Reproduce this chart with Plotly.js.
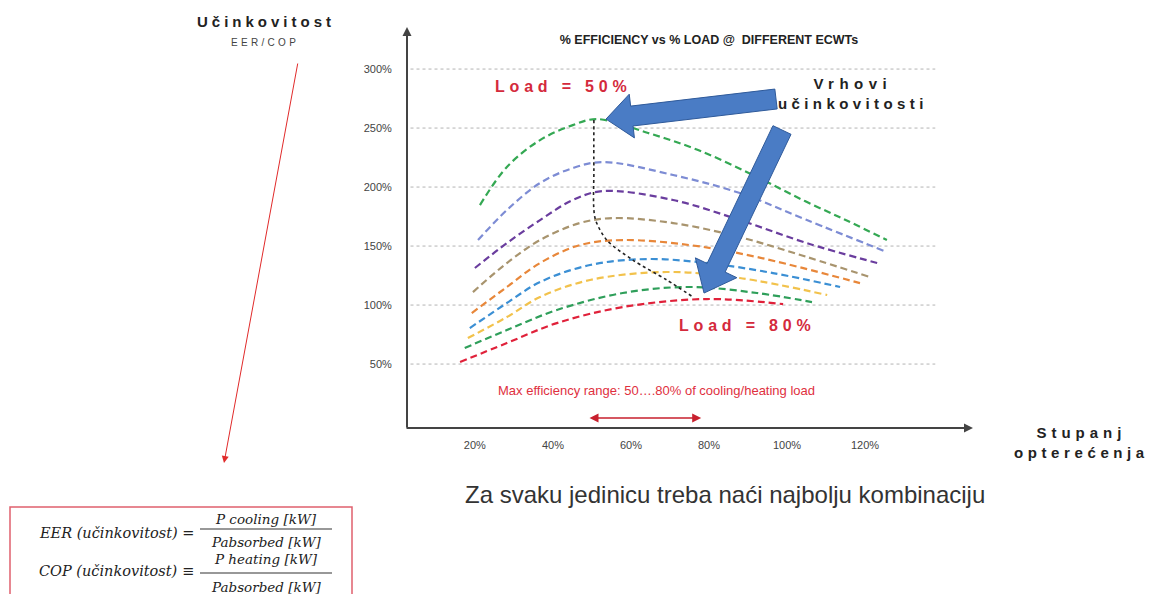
<!DOCTYPE html>
<html><head><meta charset="utf-8">
<script src="https://cdn.plot.ly/plotly-3.0.1.min.js"></script>
<style>html,body{margin:0;padding:0;background:#fff}#chart{width:1156px;height:594px}</style>
</head><body><div id="chart"></div>
<script>
// ---- data ----
const xTickVals = [20, 40, 60, 80, 100, 120];
const xTickText = ['20%', '40%', '60%', '80%', '100%', '120%'];
const yTickVals = [50, 100, 150, 200, 250, 300];
const yTickText = ['50%', '100%', '150%', '200%', '250%', '300%'];

const s1Load = [21.3, 28.2, 36.7, 45.1, 51.3, 64.4, 77.2, 91.8, 104.6, 115.6, 125.6];
const s1Eff  = [184.7, 217.0, 239.8, 252.5, 257.6, 245.8, 231.4, 209.3, 188.1, 171.2, 155.1];
const s2Load = [20.8, 28.2, 36.7, 45.1, 52.8, 70.8, 87.9, 105.1, 125.6];
const s2Eff  = [155.1, 180.5, 203.4, 216.1, 221.2, 210.2, 194.9, 172.0, 144.9];
const s3Load = [20.0, 28.2, 36.7, 45.1, 52.8, 70.8, 87.9, 105.1, 123.1];
const s3Eff  = [131.4, 152.5, 172.0, 189.0, 196.6, 189.0, 172.0, 152.5, 135.6];
const s4Load = [19.5, 28.2, 36.7, 46.9, 55.4, 70.8, 87.9, 105.1, 121.3];
const s4Eff  = [111.0, 135.6, 155.1, 169.5, 173.7, 169.5, 157.6, 140.7, 123.7];
const s5Load = [19.2, 28.2, 36.7, 46.9, 57.9, 75.1, 92.3, 118.7];
const s5Eff  = [93.2, 115.3, 135.6, 150.8, 155.1, 150.8, 140.7, 118.6];
const s6Load = [18.7, 28.2, 36.7, 49.5, 64.1, 79.5, 96.4, 113.6];
const s6Eff  = [80.5, 101.7, 119.5, 133.9, 139.0, 135.6, 127.1, 115.3];
const s7Load = [18.2, 28.2, 36.7, 49.5, 69.2, 87.9, 110.3];
const s7Eff  = [72.0, 89.8, 106.8, 121.2, 128.0, 122.9, 108.5];
const s8Load = [17.4, 28.2, 41.0, 57.9, 75.1, 92.3, 106.4];
const s8Eff  = [63.6, 78.8, 95.8, 110.2, 115.3, 110.2, 102.5];
const s9Load = [16.2, 28.2, 41.0, 57.9, 79.5, 99.0];
const s9Eff  = [51.7, 67.8, 84.7, 98.3, 105.1, 100.8];

const peakLocusLoad = [50.5, 50.5, 50.8, 53.8, 60.5, 69.2, 75.9];
const peakLocusEff  = [256.8, 215.0, 173.7, 155.1, 138.1, 121.2, 106.8];

const effRange = [49, 78];

const seriesColors = ['#34a853', '#7d8cd4', '#6a3d9e', '#a8946e', '#e8873a', '#3b8fd4', '#f2c24c', '#2f9f5a', '#e0213a'];

// ---- geometry ----
const W = 1156, H = 594;
const L = 407, R = 970, T = 30, B = 428;
const xRange = [2.6, 146.9];
const yRange = [-4.2, 333.1];
const fx = p => p / W;
const fy = p => 1 - p / H;
const dataPx = (x, y) => [L + (x - xRange[0]) / (xRange[1] - xRange[0]) * (R - L),
                          B - (y - yRange[0]) / (yRange[1] - yRange[0]) * (B - T)];

const allLoad = [s1Load, s2Load, s3Load, s4Load, s5Load, s6Load, s7Load, s8Load, s9Load];
const allEff  = [s1Eff, s2Eff, s3Eff, s4Eff, s5Eff, s6Eff, s7Eff, s8Eff, s9Eff];

const traces = allLoad.map((xs, i) => ({
  x: xs, y: allEff[i], type: 'scatter', mode: 'lines', hoverinfo: 'skip',
  line: {color: seriesColors[i], width: 2.2, dash: '7px,4px', shape: 'spline', smoothing: 1}
}));
traces.push({x: peakLocusLoad, y: peakLocusEff, type: 'scatter', mode: 'lines', hoverinfo: 'skip',
  line: {color: '#222', width: 1.6, dash: 'dot', shape: 'spline', smoothing: 0.8}});

function peakOf(xs, ys) { let k = 0; ys.forEach((v, i) => { if (v > ys[k]) k = i; }); return dataPx(xs[k], ys[k]); }

function blockArrow(tail, tip, sw, hw, hl) {
  const dx = tip[0] - tail[0], dy = tip[1] - tail[1], len = Math.hypot(dx, dy);
  const ux = dx / len, uy = dy / len, nx = -uy, ny = ux;
  const bx = tip[0] - ux * hl, by = tip[1] - uy * hl;
  const pts = [[tail[0] + nx * sw / 2, tail[1] + ny * sw / 2], [bx + nx * sw / 2, by + ny * sw / 2],
    [bx + nx * hw / 2, by + ny * hw / 2], tip, [bx - nx * hw / 2, by - ny * hw / 2],
    [bx - nx * sw / 2, by - ny * sw / 2], [tail[0] - nx * sw / 2, tail[1] - ny * sw / 2]];
  return 'M' + pts.map(p => fx(p[0]).toFixed(5) + ',' + fy(p[1]).toFixed(5)).join(' L') + ' Z';
}

const p1 = peakOf(s1Load, s1Eff);
const p9 = peakOf(s9Load, s9Eff);
const tip1 = [p1[0] + 9, p1[1]];
const tip2 = [p9[0] - 3, p9[1] - 6];

const shapes = yTickVals.map(v => ({type: 'line', xref: 'x', yref: 'y', x0: 3.5, x1: 138, y0: v, y1: v,
  line: {color: '#b3b3b3', width: 1, dash: 'dot'}, layer: 'below'}));
// white label box behind "Load = 80%" (hides part of the 100% grid line, under the curves)
shapes.push({type: 'rect', xref: 'paper', yref: 'paper', x0: fx(657), x1: fx(840), y0: fy(298), y1: fy(350),
  line: {width: 0}, fillcolor: '#fff', layer: 'below'});
shapes.push({type: 'path', xref: 'paper', yref: 'paper', path: blockArrow([776, 99], tip1, 20, 44, 26),
  fillcolor: '#4a7cc5', line: {color: '#2f5a9a', width: 1}, layer: 'above'});
shapes.push({type: 'path', xref: 'paper', yref: 'paper', path: blockArrow([782, 130], tip2, 20, 46, 28),
  fillcolor: '#4a7cc5', line: {color: '#2f5a9a', width: 1}, layer: 'above'});
// formula box + fraction bars
shapes.push({type: 'rect', xref: 'paper', yref: 'paper', x0: fx(10), x1: fx(352), y0: fy(507), y1: fy(600),
  line: {color: '#e0606e', width: 1.5}, fillcolor: 'rgba(0,0,0,0)'});
shapes.push({type: 'line', xref: 'paper', yref: 'paper', x0: fx(200), x1: fx(332), y0: fy(529), y1: fy(529), line: {color: '#333', width: 1.2}});
shapes.push({type: 'line', xref: 'paper', yref: 'paper', x0: fx(200), x1: fx(332), y0: fy(573), y1: fy(573), line: {color: '#333', width: 1.2}});

const ls = (s, t) => '<span style="letter-spacing:' + s + 'px">' + t + '</span>';
const ann = (px, py, text, font, extra) => Object.assign({xref: 'paper', yref: 'paper', x: fx(px), y: fy(py),
  text: text, showarrow: false, font: font, xanchor: 'center', yanchor: 'middle'}, extra || {});
const bold = 'Liberation Sans, Arial, sans-serif';
const narrow = 'Liberation Sans Narrow, Arial Narrow, Liberation Sans, Arial, sans-serif';
const serif = 'DejaVu Serif, Liberation Serif, serif';

const annotations = [
  ann(266, 21, '<b>' + ls(4, 'Učinkovitost') + '</b>', {family: bold, size: 15, color: '#222', weight: 'bold'}),
  ann(265, 42, ls(3.3, 'EER/COP'), {family: bold, size: 10, color: '#444'}),
  {xref: 'paper', yref: 'paper', x: fx(224), y: fy(463), ax: 74, ay: -401, text: '', showarrow: true,
    arrowhead: 2, arrowsize: 1.4, arrowwidth: 1, arrowcolor: '#e02a2a'},
  ann(196, 533, '<i>EER (učinkovitost) =</i>', {family: serif, size: 14.5, color: '#222'}, {xanchor: 'right'}),
  ann(266, 519, '<i>P cooling [kW]</i>', {family: serif, size: 13.5, color: '#222'}),
  ann(266, 542, '<i>Pabsorbed [kW]</i>', {family: serif, size: 13.5, color: '#222'}),
  ann(196, 571, '<i>COP (učinkovitost) ≡</i>', {family: serif, size: 14.5, color: '#222'}, {xanchor: 'right'}),
  ann(266, 559, '<i>P heating [kW]</i>', {family: serif, size: 13.5, color: '#222'}),
  ann(266, 587, '<i>Pabsorbed [kW]</i>', {family: serif, size: 13.5, color: '#222'}),
  ann(563, 86, '<b>' + ls(4.8, 'Load = 50%') + '</b>', {family: bold, size: 16, color: '#d42a3c', weight: 'bold'}),
  ann(747, 325, '<b>' + ls(4.8, 'Load = 80%') + '</b>', {family: bold, size: 16, color: '#d42a3c', weight: 'bold'}),
  ann(853, 93, '<b>' + ls(5.5, 'Vrhovi') + '<br>' + ls(4.4, 'učinkovitosti') + '</b>', {family: bold, size: 15, color: '#222', weight: 'bold'}),
  ann(656, 391, 'Max efficiency range: 50….80% of cooling/heating load', {family: narrow, size: 13, color: '#e0303e'}),
  {xref: 'x', yref: 'y', x: effRange[1], y: 4.3, axref: 'x', ayref: 'y', ax: effRange[0], ay: 4.3, text: '',
    showarrow: true, arrowside: 'end+start', arrowhead: 2, arrowsize: 1.2, arrowwidth: 1.5, arrowcolor: '#c8202e'},
  ann(725, 494, 'Za svaku jedinicu treba naći najbolju kombinaciju', {family: narrow, size: 24, color: '#333'}),
  ann(1081, 442, '<b>' + ls(5, 'Stupanj') + '<br>' + ls(4.6, 'opterećenja') + '</b>', {family: bold, size: 15, color: '#222', weight: 'bold'}),
  {xref: 'paper', yref: 'paper', x: fx(973), y: fy(428), ax: -568, ay: 0, text: '', showarrow: true,
    arrowhead: 2, arrowsize: 0.9, arrowwidth: 2, arrowcolor: '#444'},
  {xref: 'paper', yref: 'paper', x: fx(407), y: fy(27), ax: 0, ay: 402, text: '', showarrow: true,
    arrowhead: 2, arrowsize: 0.9, arrowwidth: 2, arrowcolor: '#444'}
];

const layout = {
  width: W, height: H, margin: {l: 0, r: 0, t: 0, b: 0, pad: 0},
  paper_bgcolor: '#fff', plot_bgcolor: '#fff', showlegend: false,
  title: {text: '<b>% EFFICIENCY vs % LOAD @  DIFFERENT ECWTs</b>', x: fx(709), y: fy(40), xref: 'container', yref: 'container',
    xanchor: 'center', yanchor: 'middle', font: {family: narrow, size: 12.5, color: '#222'}},
  xaxis: {domain: [L / W, R / W], range: xRange, tickvals: xTickVals, ticktext: xTickText, ticks: 'outside',
    ticklen: 7, tickcolor: 'rgba(0,0,0,0)', showgrid: false, zeroline: false, showline: false,
    tickfont: {family: narrow, size: 11, color: '#444'}, fixedrange: true},
  yaxis: {domain: [1 - B / H, 1 - T / H], range: yRange, tickvals: yTickVals, ticktext: yTickText, ticks: 'outside',
    ticklen: 12, tickcolor: 'rgba(0,0,0,0)', showgrid: false, zeroline: false, showline: false,
    tickfont: {family: narrow, size: 11, color: '#444'}, fixedrange: true},
  shapes: shapes, annotations: annotations
};

Plotly.newPlot('chart', traces, layout, {staticPlot: true, displayModeBar: false});
</script></body></html>
